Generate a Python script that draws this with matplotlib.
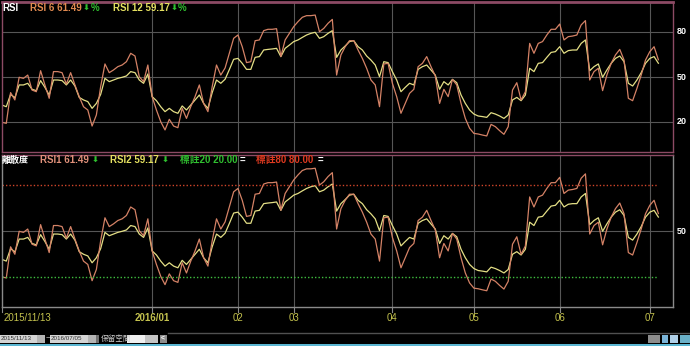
import matplotlib.pyplot as plt
from matplotlib.patches import Rectangle

# RSI values per trading day, 2015/11/13 .. 2016/07/05
rsi6 = [19.8, 19.1, 39.6, 34.7, 49.8, 49.1, 51.3, 41.3, 40.2, 54.2,
        44.7, 35.8, 53.6, 53.6, 52.9, 45.3, 52.9, 44.7, 36.9, 30.2,
        28.0, 17.3, 24.7, 43.6, 58.7, 52.9, 54.7, 56.9, 58.0, 60.2,
        65.8, 64.0, 50.2, 46.9, 58.0, 36.9, 28.0, 20.2, 14.7, 21.8,
        17.3, 16.2, 29.1, 22.4, 30.2, 36.9, 44.7, 32.4, 26.9, 43.6,
        58.0, 51.3, 56.0, 66.0, 75.8, 78.0, 70.2, 59.6, 60.2, 74.2,
        74.7, 80.9, 81.8, 81.8, 82.2, 63.6, 74.7, 79.1, 83.6, 86.9,
        89.8, 90.9, 90.9, 91.3, 80.2, 82.4, 85.8, 88.4, 51.3, 64.7,
        70.2, 74.2, 74.2, 68.0, 62.4, 55.8, 48.0, 44.7, 30.2, 58.7,
        59.1, 45.8, 36.9, 25.8, 32.4, 39.1, 41.8, 56.9, 59.1, 63.6,
        56.9, 50.7, 32.4, 41.8, 36.9, 48.4, 44.7, 32.4, 22.4, 15.8,
        12.4, 12.0, 11.3, 10.7, 18.4, 16.9, 14.2, 11.8, 16.9, 41.3,
        46.2, 34.7, 40.2, 72.4, 65.8, 72.4, 73.6, 78.0, 81.8, 81.8,
        85.3, 74.7, 76.9, 77.3, 78.0, 84.7, 87.6, 48.0, 53.6, 55.8,
        40.9, 51.3, 59.1, 64.7, 68.4, 61.3, 35.8, 34.2, 42.4, 51.3,
        61.3, 66.9, 70.2, 61.49]
rsi12 = [31.3, 30.2, 38.4, 36.2, 44.7, 44.7, 45.8, 41.8, 40.9, 47.6,
         43.1, 38.0, 48.0, 48.0, 47.6, 44.7, 48.0, 44.0, 36.4, 34.7,
         33.6, 29.1, 32.4, 38.4, 49.1, 46.9, 48.0, 49.1, 49.8, 50.7,
         53.6, 52.9, 48.0, 45.8, 52.0, 36.9, 34.2, 30.2, 26.9, 29.1,
         26.9, 25.8, 30.7, 28.0, 31.3, 34.7, 38.0, 32.4, 29.1, 39.6,
         48.0, 45.8, 48.5, 55.0, 61.8, 62.4, 59.1, 55.1, 55.1, 63.1,
         63.6, 68.0, 68.4, 68.7, 69.1, 63.6, 69.1, 71.3, 73.6, 74.7,
         76.4, 78.0, 79.1, 79.8, 75.8, 76.9, 79.1, 80.9, 63.1, 68.0,
         70.7, 73.6, 74.2, 70.2, 68.0, 64.0, 61.3, 58.0, 50.2, 60.2,
         59.6, 53.6, 48.0, 40.2, 43.1, 45.8, 44.7, 55.1, 56.9, 58.0,
         54.7, 51.3, 41.8, 46.9, 44.7, 48.4, 46.2, 38.0, 32.4, 28.0,
         25.3, 24.0, 23.6, 23.1, 26.2, 25.3, 24.0, 22.4, 24.7, 34.7,
         36.4, 34.2, 38.0, 55.8, 53.6, 59.1, 59.6, 63.1, 66.4, 66.9,
         70.2, 65.8, 67.6, 68.0, 68.0, 72.4, 74.7, 54.2, 56.9, 58.7,
         49.8, 54.7, 59.1, 62.4, 64.0, 60.2, 45.8, 44.0, 48.0, 52.9,
         59.1, 62.4, 63.6, 59.17]
mark20 = 20.0
mark80 = 80.0
tick_idx = [0, 35, 55, 68, 91, 110, 130, 151]
tick_lbl = ['2015/11/13', '2016/01', '02', '03', '04', '05', '06', '07']
date_from = '2015/11/13'
date_to = '2016/07/05'

W, H = 690, 346
C6 = '#d48266'
C12 = '#e4df86'
GRID = '#565656'
FAM = ['Liberation Sans', 'Noto Sans CJK TC']
ARROW = ['DejaVu Sans']

fig = plt.figure(figsize=(W / 100, H / 100), dpi=100, facecolor='black')


def px_axes(x0, y0, x1, y1):
    return fig.add_axes([x0 / W, 1 - y1 / H, (x1 - x0) / W, (y1 - y0) / H])


def ftext(x, y, s, color, size=7, weight='bold', family=FAM, **kw):
    fig.text(x / W, 1 - y / H, s, color=color, fontsize=size,
             fontweight=weight, family=family, va='center', **kw)


def frect(x0, y0, x1, y1, color):
    fig.patches.append(Rectangle((x0 / W, 1 - y1 / H), (x1 - x0) / W,
                                 (y1 - y0) / H, transform=fig.transFigure,
                                 facecolor=color, edgecolor='none'))


x = list(range(len(rsi6)))
xmax = (673 - 2) / 4.29

ax1 = px_axes(2, 2, 673, 152)
ax2 = px_axes(2, 155, 673, 307)
for ax, levels in [(ax1, [20, 50, 80]), (ax2, [50])]:
    ax.set_facecolor('black')
    ax.set_xlim(0, xmax)
    ax.set_ylim(0, 100)
    ax.set_xticks([])
    ax.set_yticks([])
    for lv in levels:
        ax.axhline(lv, color=GRID, lw=0.8)
        ax.text(1.005, lv, str(lv), transform=ax.get_yaxis_transform(),
                color='white', fontsize=6.5, fontweight='bold',
                family=FAM, va='center', ha='left')
    for t in tick_idx[1:]:
        ax.axvline(t, color=GRID, lw=0.8)
    ax.plot(x, rsi12, color=C12, lw=0.9)
    ax.plot(x, rsi6, color=C6, lw=0.9)

for sp in ax1.spines.values():
    sp.set_color('#8c4a64')
    sp.set_linewidth(1.0)
ax1.spines['top'].set_linewidth(2.0)
for sp in ax2.spines.values():
    sp.set_color('#8a8a8a')
    sp.set_linewidth(1.0)
ax2.spines['top'].set_color('#8c4a64')

ax2.plot([0, x[-1]], [mark80, mark80], color='#d0452a', lw=1.0, ls=(0, (1, 1.5)))
ax2.plot([0, x[-1]], [mark20, mark20], color='#3fc03f', lw=1.0, ls=(0, (1, 1.5)))

# x ticks under the lower panel
trans = ax2.get_xaxis_transform()
for t, lbl in zip(tick_idx, tick_lbl):
    ax2.plot([t, t], [-0.035, 0], transform=trans, color='#8a8a8a',
             lw=0.8, clip_on=False)
    ax2.text(t + (0.3 if t == 0 else 0), -0.075, lbl, transform=trans,
             color='#c4c24e', fontsize=7,
             fontweight='bold' if lbl == '2016/01' else 'normal',
             family=FAM, ha='left' if t == 0 else 'center', va='center')

# legends
ftext(2, 8, 'RSI', 'white')
ftext(30, 8, f'RSI 6 {rsi6[-1]:.2f}', '#e08a50')
ftext(83, 8, '⬇', '#2fc02f', size=6, family=ARROW)
ftext(91, 8, '%', '#2fc02f')
ftext(113, 8, f'RSI 12 {rsi12[-1]:.2f}', '#e4e060')
ftext(171, 8, '⬇', '#2fc02f', size=6, family=ARROW)
ftext(178, 8, '%', '#2fc02f')

ftext(2, 160, '離散度', 'white', size=6.5)
ftext(40, 160, f'RSI1 {rsi6[-1]:.2f}', '#e0907a')
ftext(92, 160, '⬇', '#2fc02f', size=6, family=ARROW)
ftext(110, 160, f'RSI2 {rsi12[-1]:.2f}', '#e4e060')
ftext(162, 160, '⬇', '#2fc02f', size=6, family=ARROW)
ftext(180, 160, f'標註20 {mark20:.2f}', '#30c030')
ftext(240, 160, '=', 'white')
ftext(256, 160, f'標註80 {mark80:.2f}', '#e03a20')
ftext(318, 160, '=', 'white')

# bottom toolbar
fig.add_artist(plt.Line2D([168 / W, 1], [1 - 333 / H] * 2, color='#505050', lw=1.0))
frect(0, 335, 37, 343, '#d4d4d4')
ftext(1, 339, date_from, '#303030', size=4.5, weight='normal')
frect(37, 335, 45, 343, '#b4b4b4')
ftext(46, 339, '~', 'white', size=6, weight='normal')
frect(50, 335, 88, 343, '#d4d4d4')
ftext(51, 339, date_to, '#303030', size=4.5, weight='normal')
frect(88, 335, 96, 343, '#b4b4b4')
frect(96, 335, 99, 343, '#707070')
ftext(101, 339, '保留空間', '#d0d0d0', size=5.5, weight='normal')
frect(127, 335, 145, 343, '#f0f0f0')
frect(145, 335, 158, 343, '#c4c4c4')
frect(160, 335, 167, 343, '#8c8c8c')
ftext(161, 339, '<', 'white', size=5)
frect(648, 335, 660, 343, '#8c8c8c')
frect(662, 335, 668, 343, '#7ab4d8')
frect(670, 335, 678, 343, '#b0d0e8')
frect(680, 335, 690, 343, '#6ab0c8')
frect(0, 344, 690, 346, '#5ab6d2')

fig.savefig('out.png', dpi=100, facecolor='black')
